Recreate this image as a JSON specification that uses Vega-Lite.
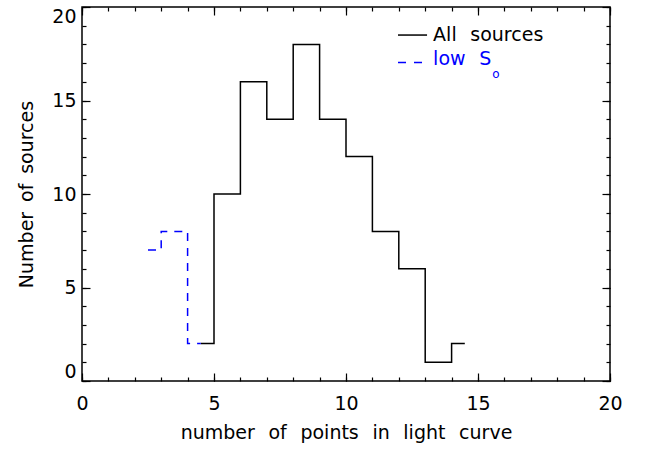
{
  "$schema": "https://vega.github.io/schema/vega-lite/v6.json",
  "width": 528,
  "height": 374,
  "autosize": "none",
  "padding": {"left": 82, "top": 7, "right": 42, "bottom": 70},
  "background": "white",
  "data": {"values": [{}]},
  "config": {
    "view": {"stroke": "black", "strokeWidth": 1.5},
    "axis": {
      "grid": false,
      "domain": false,
      "tickColor": "black",
      "tickWidth": 1.2,
      "labelFont": "DejaVu Sans",
      "labelFontSize": 19,
      "labelColor": "black",
      "titleFont": "DejaVu Sans",
      "titleFontSize": 19,
      "titleFontWeight": "normal",
      "titleColor": "black"
    }
  },
  "datasets": {
    "all": [
      {"points": 4.5, "count": 2},
      {"points": 5.5, "count": 10},
      {"points": 6.5, "count": 16},
      {"points": 7.5, "count": 14},
      {"points": 8.5, "count": 18},
      {"points": 9.5, "count": 14},
      {"points": 10.5, "count": 12},
      {"points": 11.5, "count": 8},
      {"points": 12.5, "count": 6},
      {"points": 13.5, "count": 1},
      {"points": 14.5, "count": 2}
    ],
    "low": [
      {"points": 2.5, "count": 7},
      {"points": 3.5, "count": 8},
      {"points": 4.5, "count": 2}
    ]
  },
  "resolve": {"axis": {"x": "independent", "y": "independent"}},
  "layer": [
    {
      "data": {"name": "all"},
      "mark": {"type": "line", "interpolate": "step", "color": "black", "strokeWidth": 1.5},
      "encoding": {
        "x": {
          "field": "points", "type": "quantitative",
          "scale": {"domain": [0, 20], "nice": false, "zero": false},
          "axis": {"orient": "bottom", "values": [0, 5, 10, 15, 20], "tickSize": -8, "labelPadding": 21, "title": "number \u2009\u2009of \u2009\u2009points \u2009\u2009in \u2009\u2009light \u2009\u2009curve", "titlePadding": 10, "labelFlush": false}
        },
        "y": {
          "field": "count", "type": "quantitative",
          "scale": {"domain": [0, 20], "nice": false, "zero": false},
          "axis": {"orient": "left", "values": [0, 5, 10, 15, 20], "tickSize": -8, "labelPadding": 14, "title": "Number \u2009of \u2009sources", "titlePadding": 15, "labelFlush": true}
        }
      }
    },
    {
      "data": {"name": "low"},
      "mark": {"type": "line", "interpolate": "step", "color": "#0000ff", "strokeWidth": 1.5, "strokeDash": [8, 7]},
      "encoding": {
        "x": {
          "field": "points", "type": "quantitative",
          "axis": {"orient": "bottom", "values": [0,1,2,3,4,5,6,7,8,9,10,11,12,13,14,15,16,17,18,19,20], "tickSize": -4, "labels": false, "title": null}
        },
        "y": {
          "field": "count", "type": "quantitative",
          "axis": {"orient": "left", "values": [0,1,2,3,4,5,6,7,8,9,10,11,12,13,14,15,16,17,18,19,20], "tickSize": -4, "labels": false, "title": null}
        }
      }
    },
    {
      "mark": {"type": "rule", "color": "black", "strokeWidth": 1.5},
      "encoding": {
        "x": {"datum": 11.97, "type": "quantitative", "axis": {"orient": "top", "values": [0, 5, 10, 15, 20], "tickSize": -8, "labels": false, "title": null}},
        "x2": {"datum": 13.07},
        "y": {"datum": 18.5, "type": "quantitative", "axis": {"orient": "right", "values": [0, 5, 10, 15, 20], "tickSize": -8, "labels": false, "title": null}}
      }
    },
    {
      "mark": {"type": "rule", "color": "#0000ff", "strokeWidth": 1.5, "strokeDash": [8, 8]},
      "encoding": {
        "x": {"datum": 11.97, "type": "quantitative", "axis": {"orient": "top", "values": [0,1,2,3,4,5,6,7,8,9,10,11,12,13,14,15,16,17,18,19,20], "tickSize": -4, "labels": false, "title": null}},
        "x2": {"datum": 13.07},
        "y": {"datum": 17.03, "type": "quantitative", "axis": {"orient": "right", "values": [0,1,2,3,4,5,6,7,8,9,10,11,12,13,14,15,16,17,18,19,20], "tickSize": -4, "labels": false, "title": null}}
      }
    },
    {
      "mark": {"type": "text", "text": "All \u2009\u2009sources", "align": "left", "baseline": "middle", "font": "DejaVu Sans", "fontSize": 19, "color": "black"},
      "encoding": {
        "x": {"datum": 13.3, "type": "quantitative", "axis": null},
        "y": {"datum": 18.5, "type": "quantitative", "axis": null}
      }
    },
    {
      "mark": {"type": "text", "text": "low \u2009\u2009S", "align": "left", "baseline": "middle", "font": "DejaVu Sans", "fontSize": 19, "color": "#0000ff"},
      "encoding": {
        "x": {"datum": 13.3, "type": "quantitative", "axis": null},
        "y": {"datum": 17.22, "type": "quantitative", "axis": null}
      }
    },
    {
      "mark": {"type": "text", "text": "o", "align": "center", "baseline": "middle", "font": "DejaVu Sans", "fontSize": 12, "color": "#0000ff"},
      "encoding": {
        "x": {"datum": 15.68, "type": "quantitative", "axis": null},
        "y": {"datum": 16.44, "type": "quantitative", "axis": null}
      }
    }
  ]
}
